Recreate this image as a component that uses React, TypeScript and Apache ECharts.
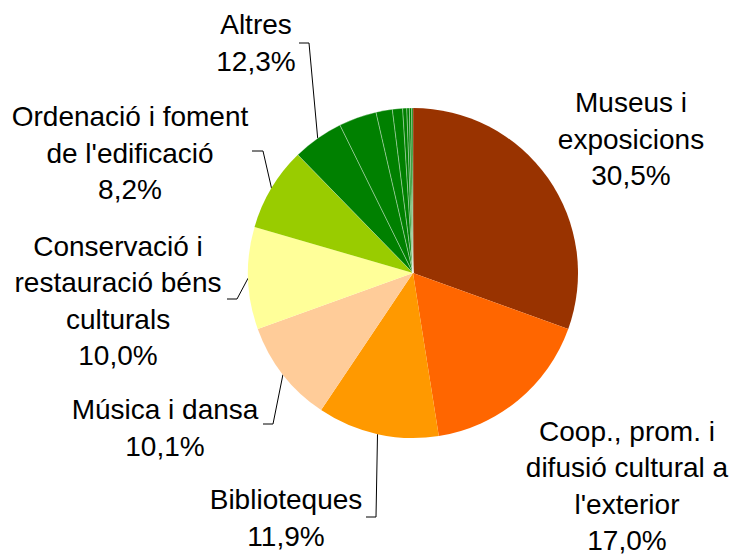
import React, { useEffect, useRef } from "react";
import * as echarts from "echarts";

// ---- data ----
const categories: string[] = [
  "Museus i\nexposicions",
  "Coop., prom. i\ndifusió cultural a\nl'exterior",
  "Biblioteques",
  "Música i dansa",
  "Conservació i\nrestauració béns\nculturals",
  "Ordenació i foment\nde l'edificació",
];
const values: number[] = [30.5, 17.0, 11.9, 10.1, 10.0, 8.2];
const otherName = "Altres";
const otherParts: number[] = [5.0, 3.7, 1.6, 1.0, 0.4, 0.25, 0.22, 0.13];

// ---- styles / layout ----
const colors: string[] = ["#993300", "#FF6600", "#FF9900", "#FFCC99", "#FFFF99", "#99CC00"];
const otherColor = "#008000";
const CENTER: [number, number] = [413, 273];
const RADIUS = 165;
// label block centres (index 6 = Altres)
const labelPos: [number, number][] = [
  [631, 139],
  [627, 486],
  [286, 518],
  [165, 428],
  [118, 301],
  [130, 153],
  [256, 43],
];
// leader line: [xNearLabel, xBend, y]
const lineSeg: ([number, number, number] | null)[] = [
  null,
  null,
  [366, 376, 517],
  [263, 273, 424],
  [227, 237, 299],
  [252, 263, 151],
  [299, 309, 43],
];

const fmt = (v: number) => v.toFixed(1).replace(".", ",") + "%";
const sum = (a: number[]) => a.reduce((s, v) => s + v, 0);

export default function App() {
  const ref = useRef<HTMLDivElement>(null);
  useEffect(() => {
    if (!ref.current) return;
    const chart = echarts.init(ref.current, null, { renderer: "svg" });
    const allValues = [...values, ...otherParts];
    const total = sum(allValues);
    const anchorOf = (idx: number): number[] => {
      const before = sum(allValues.slice(0, idx));
      const a = ((before + allValues[idx] / 2) / total) * Math.PI * 2;
      return [CENTER[0] + RADIUS * Math.sin(a), CENTER[1] - RADIUS * Math.cos(a)];
    };
    const data = [
      ...categories.map((c, i) => ({
        name: c,
        value: values[i],
        itemStyle: { color: colors[i] },
        labelLine: { show: lineSeg[i] != null },
      })),
      ...otherParts.map((v, j) => ({
        name: otherName + " " + (j + 1),
        value: v,
        itemStyle: {
          color: otherColor,
          borderColor: "rgba(255,255,255,0.55)",
          borderWidth: 0.6,
        },
        label: { show: j === 0 },
        labelLine: { show: j === 0 },
      })),
    ];
    chart.setOption({
      animation: false,
      backgroundColor: "#ffffff",
      series: [
        {
          type: "pie",
          center: CENTER,
          radius: RADIUS,
          startAngle: 90,
          clockwise: true,
          silent: true,
          avoidLabelOverlap: false,
          itemStyle: { borderWidth: 0 },
          label: {
            show: true,
            position: "outside",
            alignTo: "none",
            color: "#000000",
            fontFamily: "'Liberation Sans', Arial, Helvetica, sans-serif",
            fontSize: 28,
            lineHeight: 36.5,
            formatter: (p: any) => {
              const i = p.dataIndex;
              if (i < categories.length) return categories[i] + "\n" + fmt(values[i]);
              if (i === categories.length) return otherName + "\n" + fmt(sum(otherParts));
              return "";
            },
          },
          labelLine: {
            show: true,
            length: 20,
            length2: 10,
            smooth: false,
            lineStyle: { color: "#000000", width: 1 },
          },
          labelLayout: (p: any) => {
            const i = p.dataIndex;
            if (i >= labelPos.length) return {};
            const [x, y] = labelPos[i];
            const res: any = { x, y, align: "center", verticalAlign: "middle" };
            const seg = lineSeg[i];
            if (seg) {
              const anchor =
                p.labelLinePoints && p.labelLinePoints[0] ? p.labelLinePoints[0] : anchorOf(i);
              res.labelLinePoints = [anchor, [seg[1], seg[2]], [seg[0], seg[2]]];
            }
            return res;
          },
          data,
        },
      ],
    });
    return () => chart.dispose();
  }, []);
  return (
    <div
      ref={ref}
      style={{ position: "fixed", left: 0, top: 0, width: 735, height: 555, background: "#fff" }}
    />
  );
}
